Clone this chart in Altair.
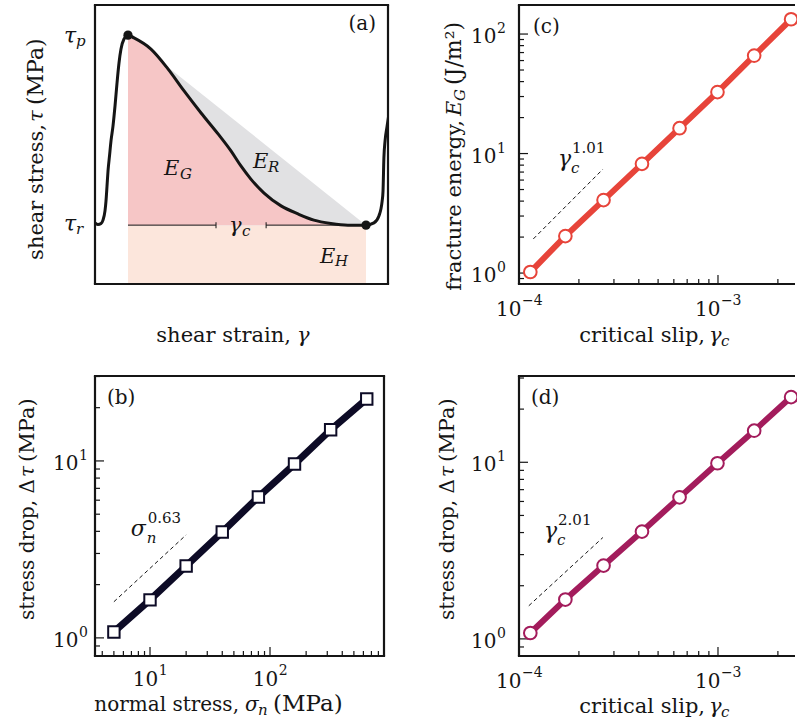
import altair as alt
import pandas as pd

FONT = "DejaVu Serif"
INK = "#151515"
PINK = "#f6c6c6"
GREY = "#e1e1e3"
PEACH = "#fce6dc"
C_B = "#0d0b26"
C_C = "#e7443a"
C_D = "#a31c5c"

# ---------------- values ----------------
# (a) schematic shear stress vs shear strain (normalised 0-100 units)
a_strain = [0, 1.02, 2.05, 2.73, 3.41, 3.75, 4.10, 4.44, 4.95, 5.46, 6.14, 6.83, 7.51, 8.19,
            8.87, 9.90, 11.26, 13.31, 19.1, 24.9, 30.4, 36.2, 42.0, 46.4, 49.8, 53.2, 57.7,
            63.5, 69.3, 74.7, 80.5, 86.3, 92.5, 95.2, 96.9, 98.0, 98.3, 98.6, 99.0, 99.7, 101.0]
a_stress = [21.9, 21.3, 21.7, 22.9, 26.2, 29.7, 35.1, 40.5, 45.9, 51.3, 56.6, 63.8, 72.0, 79.2,
            84.2, 87.8, 89.2, 88.2, 84.2, 77.1, 69.2, 61.3, 53.8, 47.7, 42.3, 37.6, 32.6,
            28.0, 25.1, 22.9, 21.7, 21.1, 21.1, 21.9, 24.4, 29.7, 33.3, 45.2, 51.3, 56.6, 65.6]
a_peak_i = 16
a_res_i = 32
a_gc_gap = [41.3, 58.4]

# (b) stress drop vs normal stress
normal_stress = [5, 10, 20, 40, 80, 160, 320, 640]
drop_vs_normal = [1.08, 1.64, 2.55, 3.97, 6.26, 9.6, 15.0, 22.4]
guide_b_x = [5.0, 20.0]
guide_b_y = [1.6, 3.82]

# (c) fracture energy and (d) stress drop vs critical slip
crit_slip = [1.14e-4, 1.71e-4, 2.66e-4, 4.15e-4, 6.41e-4, 9.94e-4, 1.52e-3, 2.33e-3]
frac_energy = [1.02, 2.04, 4.08, 8.2, 16.3, 32.7, 66.0, 133.0]
drop_vs_slip = [1.08, 1.67, 2.60, 4.05, 6.33, 9.87, 15.1, 23.4]
guide_c_x = [1.18e-4, 2.64e-4]
guide_c_y = [1.93, 7.4]
guide_d_x = [1.12e-4, 2.64e-4]
guide_d_y = [1.54, 3.75]

# axis ticks and tick labels
b_x_major = [10, 100]
b_x_exp = ["1", "2"]
b_x_minor = [4, 5, 6, 7, 8, 9, 20, 30, 40, 50, 60, 70, 80, 90, 200, 300, 400, 500, 600, 700, 800]
b_y_major = [1, 10]
b_y_exp = ["0", "1"]
b_y_minor = [0.9, 2, 3, 4, 5, 6, 7, 8, 9, 20, 30]
cd_x_major = [1e-4, 1e-3]
cd_x_exp = ["\u22124", "\u22123"]
cd_x_minor = [2e-4, 3e-4, 4e-4, 5e-4, 6e-4, 7e-4, 8e-4, 9e-4, 2e-3]
c_y_major = [1, 10, 100]
c_y_exp = ["0", "1", "2"]
c_y_minor = [0.9, 2, 3, 4, 5, 6, 7, 8, 9, 20, 30, 40, 50, 60, 70, 80, 90]
d_y_major = [1, 10]
d_y_exp = ["0", "1"]
d_y_minor = [0.9, 2, 3, 4, 5, 6, 7, 8, 9, 20, 30]

# axis domains
a_dom_x = [0, 100]
a_dom_y = [0, 100]
b_dom_x = [3.48, 891]
b_dom_y = [0.79, 30.2]
cd_dom_x = [1e-4, 2.495e-3]
c_dom_y = [0.81, 175]
d_dom_y = [0.80, 30.8]

TEN = 20      # font size of the "10" in tick labels
EXP = 14      # font size of the exponent

# ---------------- helpers ----------------
def one():
    return pd.DataFrame({"k": [0]})


def hline(x0, x1, y, w=2.2):
    return alt.Chart(one()).mark_rule(color=INK, strokeWidth=w).encode(
        x=alt.value(x0), x2=alt.value(x1), y=alt.value(y))


def vline(x, y0, y1, w=2.2):
    return alt.Chart(one()).mark_rule(color=INK, strokeWidth=w).encode(
        x=alt.value(x), y=alt.value(y0), y2=alt.value(y1))


def frame(W, H, right=True):
    xe = W + 1.1 if right else W - 2
    L = [hline(-1.1, xe, 0), hline(-1.1, xe, H), vline(0, 0, H)]
    if right:
        L.append(vline(W, 0, H))
    return L


def label(text, x, y, size, italic=False, align="left", angle=None):
    p = dict(text=text, font=FONT, fontSize=size, align=align, baseline="alphabetic", color=INK)
    if italic:
        p["fontStyle"] = "italic"
    if angle is not None:
        p["angle"] = angle
    return alt.Chart(one()).mark_text(**p).encode(x=alt.value(x), y=alt.value(y))


def note(text, xv, yv, xs, ys, size, dx=0, dy=0, italic=False):
    p = dict(text=text, font=FONT, fontSize=size, align="left", baseline="alphabetic",
             color=INK, dx=dx, dy=dy)
    if italic:
        p["fontStyle"] = "italic"
    df = pd.DataFrame({"x": [xv], "y": [yv]})
    return alt.Chart(df).mark_text(**p).encode(
        x=alt.X("x:Q", scale=xs, axis=None), y=alt.Y("y:Q", scale=ys, axis=None))


def xticks(vals, xs, H, length):
    df = pd.DataFrame({"v": vals})
    return alt.Chart(df).mark_rule(color=INK, strokeWidth=1.2).encode(
        x=alt.X("v:Q", scale=xs, axis=None), y=alt.value(H - length), y2=alt.value(H))


def yticks(vals, ys, length):
    df = pd.DataFrame({"v": vals})
    return alt.Chart(df).mark_rule(color=INK, strokeWidth=1.2).encode(
        y=alt.Y("v:Q", scale=ys, axis=None), x=alt.value(0), x2=alt.value(length))


def ylabels(vals, exps, ys, right):
    df = pd.DataFrame({"v": vals, "e": exps})
    base = alt.Chart(df).encode(y=alt.Y("v:Q", scale=ys, axis=None))
    ten = base.mark_text(text="10", font=FONT, fontSize=TEN, align="right",
                         baseline="alphabetic", dy=9, color=INK).encode(
        x=alt.value(right - 0.64 * EXP - 0.5))
    ex = base.mark_text(font=FONT, fontSize=EXP, align="right", baseline="alphabetic",
                        dy=-1, color=INK).encode(x=alt.value(right), text="e:N")
    return [ten, ex]


def xlabels(vals, exps, xs, H, base_off):
    out = []
    for v, e in zip(vals, exps):
        we = sum(0.838 if ch == "\u2212" else 0.636 for ch in e) * EXP
        off = (1.272 * TEN - we) / 2
        df = pd.DataFrame({"v": [v], "e": [e]})
        base = alt.Chart(df).encode(x=alt.X("v:Q", scale=xs, axis=None))
        out.append(base.mark_text(text="10", font=FONT, fontSize=TEN, align="right",
                                  baseline="alphabetic", dx=off, color=INK).encode(
            y=alt.value(H + base_off)))
        out.append(base.mark_text(font=FONT, fontSize=EXP, align="left", baseline="alphabetic",
                                  dx=off + 0.5, color=INK).encode(
            y=alt.value(H + base_off - 11), text="e:N"))
    return out


# ---------------- panel (a) ----------------
A_W, A_H = 293, 279
xa = alt.Scale(domain=a_dom_x, nice=False, zero=False)
ya = alt.Scale(domain=a_dom_y, nice=False, zero=False)
XA = lambda f: alt.X(f, scale=xa, axis=None)
YA = lambda f: alt.Y(f, scale=ya, axis=None)

tau_r = a_stress[a_res_i]
curve = pd.DataFrame({"x": a_strain, "y": a_stress, "i": list(range(len(a_strain)))})
seg = pd.DataFrame({"x": a_strain[a_peak_i:a_res_i + 1],
                    "y": a_stress[a_peak_i:a_res_i + 1]}).assign(b=tau_r)
pkx, pky = a_strain[a_peak_i], a_stress[a_peak_i]
rsx, rsy = a_strain[a_res_i], a_stress[a_res_i]
tri = pd.DataFrame({"x": [pkx, rsx], "y": [pky, rsy], "b": [tau_r, tau_r]})
hold = pd.DataFrame({"x": [pkx, rsx], "y": [tau_r, tau_r], "b": [0, 0]})
dim = pd.DataFrame({"x0": [pkx, a_gc_gap[1]], "x1": [a_gc_gap[0], rsx], "y": [tau_r, tau_r]})
dimt = pd.DataFrame({"x": a_gc_gap, "y": [tau_r, tau_r]})
dots = pd.DataFrame({"x": [pkx, rsx], "y": [pky, rsy]})

a_layers = [
    alt.Chart(hold).mark_area(color=PEACH, opacity=1).encode(x=XA("x:Q"), y=YA("y:Q"), y2="b:Q"),
    alt.Chart(tri).mark_area(color=GREY, opacity=1).encode(x=XA("x:Q"), y=YA("y:Q"), y2="b:Q"),
    alt.Chart(seg).mark_area(color=PINK, opacity=1, interpolate="monotone").encode(
        x=XA("x:Q"), y=YA("y:Q"), y2="b:Q"),
    alt.Chart(dim).mark_rule(color=INK, strokeWidth=1).encode(x=XA("x0:Q"), x2="x1:Q", y=YA("y:Q")),
    alt.Chart(dimt).mark_tick(orient="vertical", size=6, thickness=1, color=INK, opacity=1).encode(
        x=XA("x:Q"), y=YA("y:Q")),
    alt.Chart(curve).mark_line(color=INK, strokeWidth=3, interpolate="monotone", clip=True).encode(
        x=XA("x:Q"), y=YA("y:Q"), order="i:Q"),
    alt.Chart(dots).mark_circle(color=INK, size=85, opacity=1).encode(x=XA("x:Q"), y=YA("y:Q")),
    *frame(A_W, A_H),
    label("(a)", 281, 25, 20, align="right"),
    # region labels
    label("E", 69, 170, 21, italic=True), label("G", 85, 174, 15, italic=True),
    label("E", 158, 163, 21, italic=True), label("R", 173, 167, 15, italic=True),
    label("E", 225, 258, 21, italic=True), label("H", 240, 261, 15, italic=True),
    label("\u03b3", 134, 227, 21, italic=True), label("c", 147, 231, 15, italic=True),
    # tick labels tau_p, tau_r
    label("\u03c4", -31, 38, 22, italic=True), label("p", -19, 41, 15, italic=True),
    label("\u03c4", -31, 226, 22, italic=True), label("r", -19, 229, 15, italic=True),
    # axis titles
    label("shear strain,", 196, 337, 21, align="right"),
    label("\u03b3", 202, 337, 21, italic=True),
    label("shear stress,", -52, 119, 21, align="right", angle=270),
    label("\u03c4", -52, 117, 21, italic=True, align="left", angle=270),
    label("(MPa)", -52, 100, 22, align="left", angle=270),
    # anchor for page origin
    alt.Chart(one()).mark_rule(color="white", strokeWidth=0.01).encode(
        x=alt.value(-94), x2=alt.value(-93.5), y=alt.value(-4)),
]
panel_a = alt.layer(*a_layers).properties(width=A_W, height=A_H)


# ---------------- log panels ----------------
def log_panel(W, H, xdom, ydom, xvals, yvals, color, shape, msize, lw, gx, gy,
              xmaj, xexp, xmin, ymaj, yexp, ymin, ylab_right, xlab_off, right_frame, extra):
    xs = alt.Scale(type="log", domain=xdom, nice=False)
    ys = alt.Scale(type="log", domain=ydom, nice=False)
    data = pd.DataFrame({"x": xvals, "y": yvals})
    guide = pd.DataFrame({"x": gx, "y": gy})
    X = alt.X("x:Q", scale=xs, axis=None)
    Y = alt.Y("y:Q", scale=ys, axis=None)
    layers = [
        xticks(xmaj, xs, H, 9), xticks(xmin, xs, H, 5),
        yticks(ymaj, ys, 9), yticks(ymin, ys, 5),
        alt.Chart(guide).mark_line(color=INK, strokeWidth=1, strokeDash=[4, 3]).encode(x=X, y=Y),
        alt.Chart(data).mark_line(color=color, strokeWidth=lw, clip=True).encode(x=X, y=Y),
        alt.Chart(data).mark_point(shape=shape, filled=True, fill="white", stroke=color,
                                   strokeWidth=2, size=msize, opacity=1, clip=True).encode(x=X, y=Y),
        *frame(W, H, right=right_frame),
        *xlabels(xmaj, xexp, xs, H, xlab_off),
        *ylabels(ymaj, yexp, ys, ylab_right),
    ]
    layers += extra(xs, ys)
    return alt.layer(*layers).properties(width=W, height=H)


def power_note(sym, sub, power, xv, yv, xs, ys, gap=13):
    return [
        note(sym, xv, yv, xs, ys, 22, italic=True),
        note(sub, xv, yv, xs, ys, 15, dx=gap, dy=7, italic=True),
        note(power, xv, yv, xs, ys, 15, dx=gap + 1, dy=-13),
    ]


def stress_drop_title(x):
    return [
        label("stress drop, \u0394", x, 103, 20, align="right", angle=270),
        label("\u03c4", x, 101, 20, italic=True, angle=270),
        label("(MPa)", x, 86, 21, angle=270),
    ]


def slip_title():
    return [
        label("critical slip,", 186, 337, 21, align="right"),
        label("\u03b3", 190, 337, 21, italic=True),
        label("c", 202, 341, 15, italic=True),
    ]


def extra_b(xs, ys):
    return [
        *power_note("\u03c3", "n", "0.63", 6.9, 3.77, xs, ys, gap=16),
        label("(b)", 12, 28, 20),
        label("normal stress,", 144, 335, 20, align="right"),
        label("\u03c3", 150, 335, 20, italic=True),
        label("n", 163, 339, 15, italic=True),
        label("(MPa)", 178, 335, 23),
        *stress_drop_title(-61),
    ]


def extra_c(xs, ys):
    return [
        *power_note("\u03b3", "c", "1.01", 1.57e-4, 7.86, xs, ys),
        label("(c)", 14, 28, 20),
        *slip_title(),
        label("fracture energy,", -58, 115, 21, align="right", angle=270),
        label("E", -58, 111, 21, italic=True, angle=270),
        label("G", -54, 96, 15, italic=True, angle=270),
        label("(J/m\u00b2)", -58, 80, 22, angle=270),
    ]


def extra_d(xs, ys):
    return [
        *power_note("\u03b3", "c", "2.01", 1.336e-4, 3.75, xs, ys),
        label("(d)", 12, 28, 20),
        *slip_title(),
        *stress_drop_title(-65),
    ]


panel_b = log_panel(289, 280, b_dom_x, b_dom_y, normal_stress, drop_vs_normal, C_B, "square",
                    130, 7, guide_b_x, guide_b_y, b_x_major, b_x_exp, b_x_minor,
                    b_y_major, b_y_exp, b_y_minor, -7, 30, True, extra_b)
panel_c = log_panel(278, 279, cd_dom_x, c_dom_y, crit_slip, frac_energy, C_C, "circle",
                    160, 6, guide_c_x, guide_c_y, cd_x_major, cd_x_exp, cd_x_minor,
                    c_y_major, c_y_exp, c_y_minor, -13, 32, False, extra_c)
panel_d = log_panel(278, 280, cd_dom_x, d_dom_y, crit_slip, drop_vs_slip, C_D, "circle",
                    160, 6, guide_d_x, guide_d_y, cd_x_major, cd_x_exp, cd_x_minor,
                    d_y_major, d_y_exp, d_y_minor, -13, 32, False, extra_d)

chart = alt.concat(panel_a, panel_c, panel_b, panel_d, columns=2,
                   spacing={"row": 92, "column": 131}, bounds="flush").properties(
    padding=0).configure_view(stroke=None)

chart.save("out.html", embed_options={"renderer": "svg", "actions": False})
